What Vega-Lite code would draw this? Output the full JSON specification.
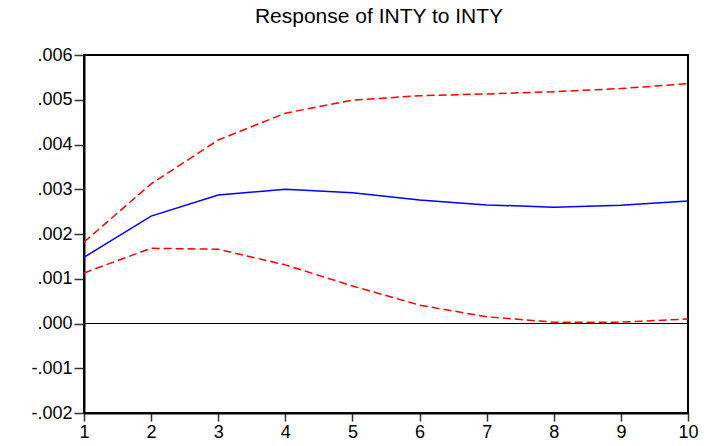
{
  "$schema": "https://vega.github.io/schema/vega-lite/v6.json",
  "width": 604,
  "height": 358,
  "autosize": "none",
  "padding": {"left": 84, "top": 55, "right": 18, "bottom": 33},
  "background": "white",
  "title": {"text": "Response of INTY to INTY", "font": "Liberation Sans", "fontSize": 21, "fontWeight": "normal", "color": "black", "anchor": "middle", "offset": 19, "dx": -7},
  "datasets": {
    "irf": [
      {"period": 1, "series": "response", "value": 0.00148},
      {"period": 2, "series": "response", "value": 0.00240},
      {"period": 3, "series": "response", "value": 0.00287},
      {"period": 4, "series": "response", "value": 0.00300},
      {"period": 5, "series": "response", "value": 0.00292},
      {"period": 6, "series": "response", "value": 0.00276},
      {"period": 7, "series": "response", "value": 0.00265},
      {"period": 8, "series": "response", "value": 0.00260},
      {"period": 9, "series": "response", "value": 0.00264},
      {"period": 10, "series": "response", "value": 0.00274},
      {"period": 1, "series": "upper", "value": 0.00182},
      {"period": 2, "series": "upper", "value": 0.00312},
      {"period": 3, "series": "upper", "value": 0.00410},
      {"period": 4, "series": "upper", "value": 0.00470},
      {"period": 5, "series": "upper", "value": 0.00499},
      {"period": 6, "series": "upper", "value": 0.00509},
      {"period": 7, "series": "upper", "value": 0.00513},
      {"period": 8, "series": "upper", "value": 0.00518},
      {"period": 9, "series": "upper", "value": 0.00525},
      {"period": 10, "series": "upper", "value": 0.00536},
      {"period": 1, "series": "lower", "value": 0.00113},
      {"period": 2, "series": "lower", "value": 0.00168},
      {"period": 3, "series": "lower", "value": 0.00166},
      {"period": 4, "series": "lower", "value": 0.00131},
      {"period": 5, "series": "lower", "value": 0.00084},
      {"period": 6, "series": "lower", "value": 0.00041},
      {"period": 7, "series": "lower", "value": 0.00015},
      {"period": 8, "series": "lower", "value": 0.00003},
      {"period": 9, "series": "lower", "value": 0.00003},
      {"period": 10, "series": "lower", "value": 0.00010}
    ],
    "zero": [{"y": 0}]
  },
  "layer": [
    {
      "data": {"name": "zero"},
      "mark": {"type": "rule", "color": "black", "strokeWidth": 1},
      "encoding": {"y": {"field": "y", "type": "quantitative"}}
    },
    {
      "data": {"name": "irf"},
      "transform": [{"filter": "datum.series !== 'response'"}],
      "mark": {"type": "line", "color": "#ff0000", "strokeWidth": 1.5, "strokeDash": [8, 4]},
      "encoding": {
        "x": {"field": "period", "type": "quantitative"},
        "y": {"field": "value", "type": "quantitative"},
        "detail": {"field": "series"}
      }
    },
    {
      "data": {"name": "irf"},
      "transform": [{"filter": "datum.series === 'response'"}],
      "mark": {"type": "line", "color": "#0000ff", "strokeWidth": 1.5},
      "encoding": {
        "x": {"field": "period", "type": "quantitative", "scale": {"domain": [1, 10], "nice": false, "zero": false},
              "axis": {"title": null, "values": [1,2,3,4,5,6,7,8,9,10], "format": "d", "grid": false}},
        "y": {"field": "value", "type": "quantitative", "scale": {"domain": [-0.002, 0.006], "nice": false, "zero": false},
              "axis": {"title": null, "values": [-0.002,-0.001,0,0.001,0.002,0.003,0.004,0.005,0.006], "grid": false,
                       "labelExpr": "replace(replace(format(datum.value, '.3f'), '−', '-'), '0.', '.')"}}
      }
    }
  ],
  "config": {
    "view": {"stroke": "black", "strokeWidth": 2},
    "axis": {
      "domainColor": "black", "domainWidth": 2,
      "tickColor": "#333333", "tickWidth": 1.5,
      "labelFont": "Liberation Sans", "labelFontSize": 18, "labelColor": "black"
    },
    "axisX": {"labelBaseline": "top", "labelAlign": "center", "labelFlush": false, "labelPadding": 2, "tickSize": 8},
    "axisY": {"labelBaseline": "middle", "labelFlush": false, "labelPadding": 2, "tickSize": 10}
  }
}
